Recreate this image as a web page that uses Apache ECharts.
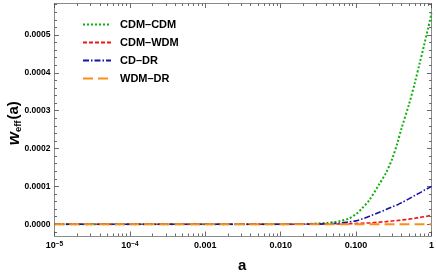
<!DOCTYPE html>
<html><head><meta charset="utf-8">
<script src="https://cdn.jsdelivr.net/npm/echarts@6/dist/echarts.min.js"></script>
<style>html,body{margin:0;padding:0;background:#fff}#c{width:436px;height:276px}</style>
</head><body><div id="c"></div>
<script>
// scale factor a (log axis)
const aValues = [1e-5, 1e-4, 1e-3, 0.005, 0.01, 0.013, 0.02, 0.03, 0.04, 0.05, 0.06, 0.08, 0.1, 0.12, 0.15, 0.2, 0.25, 0.3, 0.35, 0.4, 0.5, 0.6, 0.7, 0.8, 0.9, 1.0];
// w_eff(a) for each model
const cdmCdm = [0, 0, 0, 0, 0, 0.0000002, 0.0000008, 0.000002, 0.0000035, 0.0000055, 0.000008, 0.000015, 0.000027, 0.000042, 0.000064, 0.000104, 0.000136, 0.000172, 0.000212, 0.000253, 0.000315, 0.000373, 0.000427, 0.000474, 0.000517, 0.000557];
const cdmWdm = [0, 0, 0, 0, 0, 0, 0.0000001, 0.0000002, 0.0000003, 0.0000005, 0.0000007, 0.0000013, 0.000002, 0.0000027, 0.0000035, 0.0000055, 0.000007, 0.0000085, 0.0000098, 0.000011, 0.0000135, 0.0000158, 0.000018, 0.00002, 0.000022, 0.0000245];
const cdDr   = [0, 0, 0, 0, 0, 0, 0.0000001, 0.0000005, 0.000001, 0.000002, 0.000003, 0.0000062, 0.000009, 0.000014, 0.000021, 0.000031, 0.000039, 0.000046, 0.000051, 0.000057, 0.000067, 0.000076, 0.000083, 0.00009, 0.000095, 0.0001];
const wdmDr  = [0, 0, 0, 0, 0, 0, 0, 0, 0, 0, 0, 0, 0, 0, 0, 0, 0, 0, 0, 0, 0, 0, 0, 0, 0, 0];
const seriesNames = ['CDM–CDM', 'CDM–WDM', 'CD–DR', 'WDM–DR'];
// ticks
const xTickValues = [1e-5, 1e-4, 1e-3, 1e-2, 1e-1, 1];
const xTickLabels = ['10{sup|−5}', '10{sup|−4}', '0.001', '0.010', '0.100', '1'];
const yTickValues = [0, 0.0001, 0.0002, 0.0003, 0.0004, 0.0005];
const yTickLabels = ['0.0000', '0.0001', '0.0002', '0.0003', '0.0004', '0.0005'];
const xMin = 1e-5, xMax = 1, yMin = -0.000031, yMax = 0.000583;

const xMinor = [];
for (let d = 1e-5; d < 1; d *= 10) for (let k = 2; k <= 9; k++) xMinor.push(+(k * d).toPrecision(3));
const yMinor = [];
for (let i = -1; i <= 29; i++) { if (i % 5 !== 0) yMinor.push(+(i * 0.00002).toPrecision(3)); }

const FONT = 'Liberation Sans, Arial, sans-serif';
const frameColor = '#8a8a8a', tickColor = '#444';

function xAxisDef(pos, minor, labels) {
  return {
    type: 'log', logBase: 10, min: xMin, max: xMax, position: pos, gridIndex: 0,
    axisLine: { show: !minor, onZero: false, lineStyle: { color: frameColor, width: 1 } },
    axisTick: { show: true, inside: true, length: minor ? 2.5 : 4.5, customValues: minor ? xMinor : xTickValues, lineStyle: { color: tickColor, width: 0.8 } },
    axisLabel: labels ? {
      show: true, customValues: xTickValues, margin: 5, fontFamily: FONT, fontWeight: 'bold', fontSize: 9, color: '#000',
      formatter: v => { const i = xTickValues.findIndex(t => Math.abs(Math.log10(t) - Math.log10(v)) < 1e-6); return i >= 0 ? xTickLabels[i] : ''; },
      rich: { sup: { fontSize: 6.5, fontWeight: 'bold', fontFamily: FONT, verticalAlign: 'top', lineHeight: 6, color: '#000' } }
    } : { show: false },
    splitLine: { show: false }, minorTick: { show: false }
  };
}
function yAxisDef(pos, minor, labels) {
  return {
    type: 'value', min: yMin, max: yMax, position: pos, gridIndex: 0,
    axisLine: { show: !minor, onZero: false, lineStyle: { color: frameColor, width: 1 } },
    axisTick: { show: true, inside: true, length: minor ? 2.5 : 4.5, customValues: minor ? yMinor : yTickValues, lineStyle: { color: tickColor, width: 0.8 } },
    axisLabel: labels ? {
      show: true, customValues: yTickValues, margin: 4, fontFamily: FONT, fontWeight: 'bold', fontSize: 8.5, color: '#000',
      formatter: v => { const i = yTickValues.findIndex(t => Math.abs(t - v) < 1e-9); return i >= 0 ? yTickLabels[i] : ''; }
    } : { show: false },
    splitLine: { show: false },
    name: labels ? '{w|w}{s|eff}{p|(a)}' : '',
    nameLocation: 'middle', nameRotate: 90, nameGap: 31, nameMoveOverlap: false,
    nameTextStyle: {
      color: '#000', fontFamily: FONT,
      rich: {
        w: { fontSize: 17, fontWeight: 'bold', fontStyle: 'italic', fontFamily: FONT, color: '#000', lineHeight: 19, verticalAlign: 'middle' },
        s: { fontSize: 9.5, fontWeight: 'bold', fontFamily: FONT, color: '#000', lineHeight: 9, verticalAlign: 'bottom' },
        p: { fontSize: 15, fontWeight: 'bold', fontFamily: FONT, color: '#000', lineHeight: 19, verticalAlign: 'middle', padding: [0, 7, 0, 1] }
      }
    }
  };
}

const chart = echarts.init(document.getElementById('c'), null, { renderer: 'canvas' });
const mk = (name, data, color, width, dash) => ({
  name, type: 'line', xAxisIndex: 0, yAxisIndex: 0, symbol: 'none', smooth: 0.3,
  data: aValues.map((a, i) => [a, data[i]]),
  lineStyle: { color, width, type: dash, cap: 'butt' }, itemStyle: { color },
  silent: true, animation: false
});
chart.setOption({
  animation: false,
  grid: { left: 54.5, right: 4.5, top: 3.5, bottom: 40, containLabel: false, outerBoundsMode: 'none' },
  xAxis: [xAxisDef('bottom', false, true), xAxisDef('top', false, false), xAxisDef('bottom', true, false), xAxisDef('top', true, false)],
  yAxis: [yAxisDef('left', false, true), yAxisDef('right', false, false), yAxisDef('left', true, false), yAxisDef('right', true, false)],
  graphic: [{
    type: 'text', left: 238, top: 258,
    style: { text: 'a', font: 'bold 15px ' + FONT, fill: '#000' }
  }],
  legend: {
    orient: 'vertical', left: 82, top: 19, padding: 0, itemWidth: 28, itemHeight: 10, itemGap: 7,
    data: seriesNames,
    itemStyle: { color: 'rgba(0,0,0,0)', borderWidth: 0, opacity: 0 },
    textStyle: { fontFamily: FONT, fontWeight: 'bold', fontSize: 11, lineHeight: 10, color: '#000', padding: [0, 0, 0, 4] },
    selectedMode: false
  },
  series: [
    mk(seriesNames[0], cdmCdm, '#0db00d', 2, [2, 2]),
    mk(seriesNames[1], cdmWdm, '#f01515', 1.6, [4, 2]),
    mk(seriesNames[2], cdDr, '#1414a8', 1.6, [6, 2, 1.5, 2]),
    mk(seriesNames[3], wdmDr, '#ff8c1a', 2, [10, 5])
  ]
});
</script></body></html>
